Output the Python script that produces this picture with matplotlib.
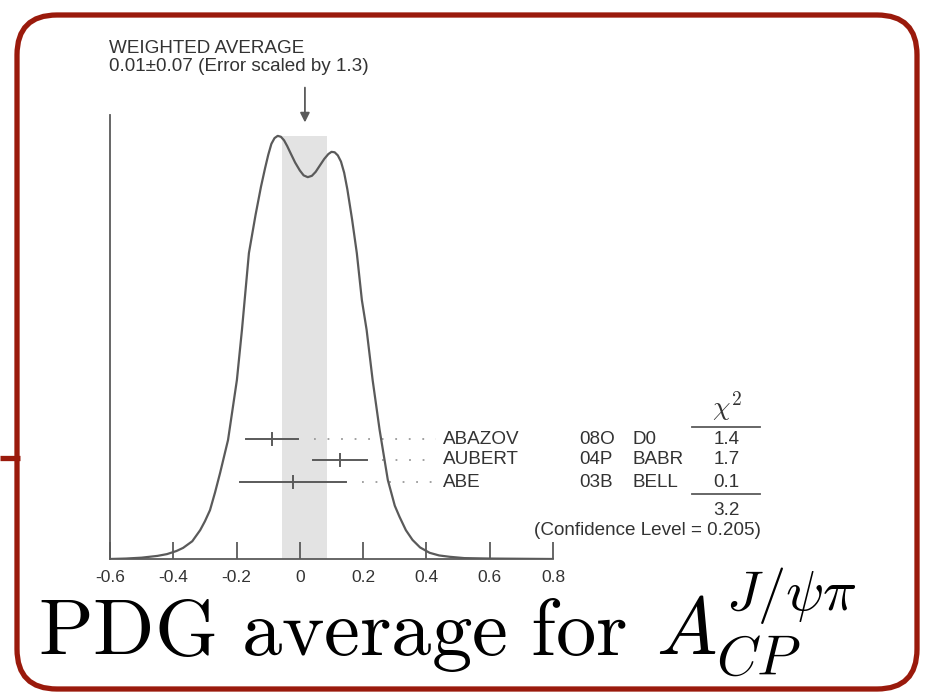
import numpy as np
import matplotlib.pyplot as plt
from matplotlib.patches import FancyBboxPatch

plt.rcParams.update(
    {
        "font.family": ["Liberation Sans", "DejaVu Sans"],
        "mathtext.fontset": "cm",
    }
)

# ideogram curve (x value, relative height)
curve_x = [-0.600, -0.550, -0.500, -0.450, -0.420, -0.390, -0.369, -0.340,
           -0.315, -0.300, -0.284, -0.268, -0.252, -0.227, -0.199, -0.183,
           -0.161, -0.140, -0.123, -0.110, -0.100, -0.090, -0.080, -0.070,
           -0.060, -0.050, -0.040, -0.030, -0.015, 0.000, 0.012, 0.025,
           0.038, 0.050, 0.063, 0.077, 0.090, 0.100, 0.110, 0.120, 0.130,
           0.140, 0.150, 0.165, 0.180, 0.196, 0.211, 0.230, 0.252, 0.278,
           0.300, 0.315, 0.335, 0.356, 0.380, 0.410, 0.440, 0.473, 0.520,
           0.600, 0.800]
curve_y = [0.000, 0.001, 0.003, 0.007, 0.011, 0.018, 0.025, 0.040,
           0.065, 0.085, 0.110, 0.150, 0.194, 0.268, 0.403, 0.516,
           0.689, 0.775, 0.838, 0.880, 0.910, 0.935, 0.948, 0.953,
           0.951, 0.943, 0.930, 0.915, 0.893, 0.875, 0.864, 0.860,
           0.863, 0.872, 0.886, 0.901, 0.912, 0.917, 0.916, 0.909, 0.895,
           0.870, 0.833, 0.765, 0.689, 0.583, 0.516, 0.403, 0.291, 0.178,
           0.120, 0.095, 0.065, 0.043, 0.026, 0.014, 0.008, 0.005, 0.002,
           0.001, 0.000]

# measurements
names = ["ABAZOV", "AUBERT", "ABE"]
years = ["08O", "04P", "03B"]
experiments = ["D0", "BABR", "BELL"]
values = [-0.088, 0.126, -0.022]
errors = [0.083, 0.085, 0.167]
chi2 = ["1.4", "1.7", "0.1"]
chi2_total = "3.2"
conf_level = "0.205"

avg_lo, avg_hi = -0.055, 0.087
avg_x = 0.016

row_y = [0.270, 0.223, 0.173]

gray = "#5a5a5a"
tcol = "#333333"
fs = 13.6

fig = plt.figure(figsize=(9.3, 6.93), dpi=100)

# full-figure overlay in pixel coordinates for the frame
bg = fig.add_axes([0, 0, 1, 1])
bg.set_xlim(0, 930)
bg.set_ylim(693, 0)
bg.axis("off")
frame = FancyBboxPatch((17, 15), 900, 674, boxstyle="round,pad=0,rounding_size=40",
                       fc="none", ec="#9a1a0c", lw=3.8)
bg.add_patch(frame)
bg.plot([0, 20], [458, 458], color="#9a1a0c", lw=3.8, solid_capstyle="butt")

ax = fig.add_axes([110 / 930, 134 / 693, 443 / 930, 444 / 693])
ax.set_xlim(-0.6, 0.8)
ax.set_ylim(0, 1)
ax.patch.set_alpha(0)
for s in ["top", "right"]:
    ax.spines[s].set_visible(False)
for s in ["left", "bottom"]:
    ax.spines[s].set_color(gray)
    ax.spines[s].set_linewidth(1.3)
ax.set_yticks([])
ax.set_xticks(np.arange(-0.6, 0.81, 0.2))
ax.set_xticklabels(["-0.6", "-0.4", "-0.2", "0", "0.2", "0.4", "0.6", "0.8"])
ax.tick_params(axis="x", direction="in", length=12, width=1.3, color=gray,
               labelsize=12.5, labelcolor=tcol, pad=8)

ax.axvspan(avg_lo, avg_hi, ymin=0, ymax=0.953, color="#e3e3e3", lw=0, zorder=0)
ax.plot(curve_x, curve_y, color=gray, lw=1.6, zorder=3)

for i in range(len(names)):
    y = row_y[i]
    ax.plot([values[i] - errors[i], values[i] + errors[i]], [y, y], color=gray, lw=1.4)
    ax.plot([values[i], values[i]], [y - 0.014, y + 0.014], color=gray, lw=1.4)
    ax.plot([values[i] + errors[i] + 0.05, 0.43], [y, y], color="#9a9a9a", lw=1.3,
            linestyle=(0, (1, 6.5)))
    ax.text(0.452, y, names[i], fontsize=fs, color=tcol, va="center", ha="left")
    ax.text(0.882, y, years[i], fontsize=fs, color=tcol, va="center", ha="left")
    ax.text(1.052, y, experiments[i], fontsize=fs, color=tcol, va="center", ha="left")
    ax.text(1.349, y, chi2[i], fontsize=fs, color=tcol, va="center", ha="center")

ax.text(1.349, 0.345, r"$\chi^2$", fontsize=20, color=tcol, va="center", ha="center")
ax.plot([1.239, 1.454], [0.297, 0.297], color=gray, lw=1.3, clip_on=False)
ax.plot([1.239, 1.454], [0.146, 0.146], color=gray, lw=1.3, clip_on=False)
ax.text(1.349, 0.110, chi2_total, fontsize=fs, color=tcol, va="center", ha="center")
ax.text(1.100, 0.065, "(Confidence Level = " + conf_level + ")", fontsize=fs,
        color=tcol, va="center", ha="center")

ax.text(-0.603, 1.168, "WEIGHTED AVERAGE", fontsize=fs, color=tcol, va="top", ha="left")
ax.text(-0.603, 1.128, "0.01\u00b10.07 (Error scaled by 1.3)", fontsize=fs,
        color=tcol, va="top", ha="left")
ax.annotate("", xy=(avg_x, 0.977), xytext=(avg_x, 1.068),
            arrowprops=dict(arrowstyle="-|>", color=gray, lw=1.3, mutation_scale=14),
            annotation_clip=False)

# bottom caption, split so the math part sits to the right of the tick labels
fig.text(38 / 930, 1 - 655 / 693, r"$\mathrm{PDG\ average\ for}$",
         fontsize=58, color="black", ha="left", va="baseline")
fig.text(656 / 930, 1 - 655 / 693, r"$A_{CP}^{J/\psi\pi}$",
         fontsize=58, color="black", ha="left", va="baseline")

fig.savefig("out.png", dpi=100)
